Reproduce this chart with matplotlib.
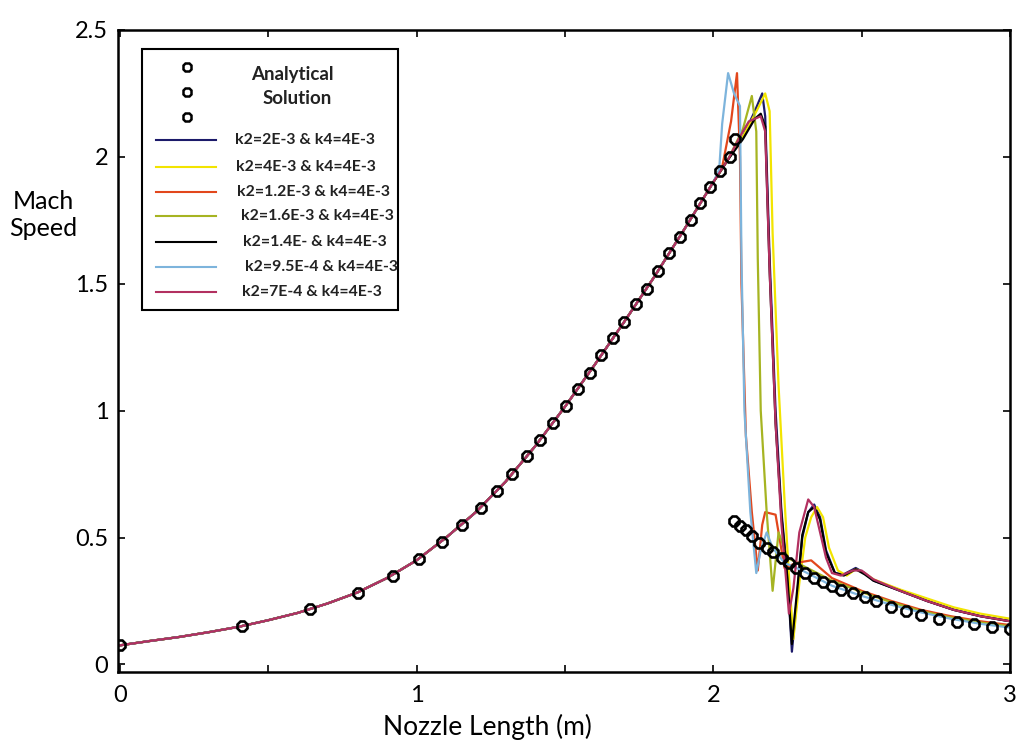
import matplotlib
matplotlib.use('Agg')
import matplotlib.pyplot as plt
import numpy as np
from matplotlib.patches import Rectangle
from matplotlib.lines import Line2D

plt.rcParams['font.family'] = ['Lato', 'DejaVu Sans']

# analytical solution (markers): supersonic branch then post-shock branch
x_exact = [0.0, 0.411, 0.640, 0.802, 0.920, 1.010, 1.085, 1.153, 1.217, 1.271,
           1.321, 1.372, 1.416, 1.459, 1.503, 1.544, 1.584, 1.621, 1.662, 1.699,
           1.739, 1.776, 1.813, 1.850, 1.887, 1.924, 1.955, 1.989, 2.022, 2.056, 2.073,
           2.07, 2.09, 2.11, 2.13, 2.155, 2.18, 2.20, 2.23, 2.255, 2.28, 2.31, 2.34,
           2.37, 2.40, 2.43, 2.47, 2.51, 2.55, 2.60, 2.65, 2.70, 2.76, 2.82, 2.88, 2.94, 3.0]
m_exact = [0.075, 0.15, 0.217, 0.283, 0.35, 0.417, 0.484, 0.55, 0.618, 0.685,
           0.75, 0.82, 0.886, 0.953, 1.02, 1.087, 1.15, 1.22, 1.287, 1.35,
           1.42, 1.48, 1.55, 1.62, 1.685, 1.75, 1.82, 1.88, 1.945, 2.00, 2.07,
           0.567, 0.547, 0.528, 0.505, 0.48, 0.46, 0.441, 0.42, 0.40, 0.38, 0.36, 0.342,
           0.323, 0.31, 0.295, 0.28, 0.265, 0.25, 0.228, 0.21, 0.195, 0.18, 0.168, 0.158, 0.148, 0.14]

# numerical solutions share the same upstream part
x_up = [0.0, 0.1, 0.2, 0.3, 0.4, 0.5, 0.6, 0.7, 0.8, 0.9, 1.0,
        1.1, 1.2, 1.3, 1.4, 1.5, 1.6, 1.7, 1.8, 1.9, 2.0]
m_up = [0.075, 0.092, 0.108, 0.127, 0.148, 0.174, 0.203, 0.24, 0.283, 0.34, 0.41,
        0.50, 0.60, 0.72, 0.86, 1.015, 1.18, 1.35, 1.525, 1.71, 1.90]

# shock region of each run
k2_2e3_x = [2.05, 2.10, 2.14, 2.165, 2.175, 2.19, 2.21, 2.23, 2.25, 2.265, 2.285, 2.30, 2.32,
            2.34, 2.36, 2.38, 2.41, 2.44, 2.48, 2.51, 2.54, 2.63, 2.72, 2.81, 2.90, 3.00]
k2_2e3_m = [1.99, 2.08, 2.18, 2.25, 2.16, 1.60, 1.00, 0.60, 0.35, 0.05, 0.30, 0.50, 0.60,
            0.63, 0.58, 0.45, 0.36, 0.355, 0.38, 0.36, 0.33, 0.29, 0.25, 0.215, 0.19, 0.17]

k2_4e3_x = [2.05, 2.10, 2.15, 2.175, 2.19, 2.20, 2.22, 2.24, 2.255, 2.27, 2.29, 2.31, 2.33,
            2.35, 2.37, 2.39, 2.42, 2.45, 2.48, 2.51, 2.54, 2.63, 2.72, 2.81, 2.90, 3.00]
k2_4e3_m = [1.99, 2.08, 2.19, 2.25, 2.18, 1.70, 1.10, 0.65, 0.35, 0.10, 0.32, 0.50, 0.58,
            0.62, 0.58, 0.46, 0.37, 0.35, 0.375, 0.36, 0.335, 0.295, 0.26, 0.225, 0.20, 0.18]

k2_12e4_x = [2.03, 2.06, 2.08, 2.09, 2.095, 2.11, 2.13, 2.15, 2.165, 2.175, 2.21, 2.24,
             2.28, 2.33, 2.40, 2.50, 2.60, 2.70, 2.80, 2.90, 3.00]
k2_12e4_m = [1.96, 2.14, 2.33, 2.00, 1.50, 0.90, 0.60, 0.37, 0.55, 0.60, 0.59, 0.38,
             0.40, 0.41, 0.34, 0.29, 0.25, 0.215, 0.19, 0.17, 0.155]

k2_16e4_x = [2.05, 2.10, 2.13, 2.145, 2.15, 2.16, 2.18, 2.20, 2.22, 2.25, 2.30, 2.40,
             2.50, 2.60, 2.70, 2.80, 2.90, 3.00]
k2_16e4_m = [1.99, 2.11, 2.24, 2.10, 1.60, 1.00, 0.60, 0.29, 0.52, 0.42, 0.39, 0.33,
             0.285, 0.245, 0.21, 0.185, 0.165, 0.15]

k2_14e4_x = [2.05, 2.10, 2.14, 2.16, 2.175, 2.19, 2.21, 2.23, 2.25, 2.265, 2.285, 2.30, 2.32,
             2.34, 2.36, 2.38, 2.41, 2.44, 2.48, 2.51, 2.54, 2.63, 2.72, 2.81, 2.90, 3.00]
k2_14e4_m = [1.99, 2.07, 2.15, 2.17, 2.12, 1.55, 0.95, 0.58, 0.34, 0.08, 0.32, 0.51, 0.60,
             0.62, 0.57, 0.44, 0.36, 0.35, 0.375, 0.355, 0.33, 0.29, 0.25, 0.215, 0.19, 0.17]

k2_95e5_x = [2.02, 2.03, 2.05, 2.07, 2.09, 2.095, 2.105, 2.125, 2.145, 2.16, 2.18, 2.20,
             2.24, 2.30, 2.40, 2.50, 2.60, 2.70, 2.80, 2.90, 3.00]
k2_95e5_m = [1.95, 2.13, 2.33, 2.25, 2.20, 1.60, 1.00, 0.60, 0.36, 0.45, 0.52, 0.46,
             0.40, 0.37, 0.31, 0.27, 0.235, 0.205, 0.18, 0.16, 0.145]

k2_7e4_x = [2.05, 2.09, 2.12, 2.16, 2.175, 2.19, 2.21, 2.23, 2.255, 2.27, 2.29, 2.32, 2.34,
            2.36, 2.38, 2.40, 2.43, 2.47, 2.50, 2.54, 2.63, 2.72, 2.81, 2.90, 3.00]
k2_7e4_m = [1.99, 2.08, 2.14, 2.16, 2.10, 1.55, 0.95, 0.55, 0.20, 0.30, 0.52, 0.65, 0.62,
            0.52, 0.42, 0.36, 0.35, 0.37, 0.37, 0.335, 0.29, 0.25, 0.215, 0.19, 0.17]

labels = ['k2=2E-3 & k4=4E-3', 'k2=4E-3 & k4=4E-3', 'k2=1.2E-3 & k4=4E-3',
          'k2=1.6E-3 & k4=4E-3', 'k2=1.4E- & k4=4E-3', 'k2=9.5E-4 & k4=4E-3',
          'k2=7E-4 & k4=4E-3']
colors = ['#1c1a6a', '#f2e400', '#e2471c', '#a6b422', '#000000', '#7db4dc', '#b23060']
runs = [(k2_2e3_x, k2_2e3_m), (k2_4e3_x, k2_4e3_m), (k2_12e4_x, k2_12e4_m),
        (k2_16e4_x, k2_16e4_m), (k2_14e4_x, k2_14e4_m), (k2_95e5_x, k2_95e5_m),
        (k2_7e4_x, k2_7e4_m)]

fig = plt.figure(figsize=(10.17, 7.45), dpi=100)
ax = fig.add_axes([118/1017, 1-672/745, 892/1017, 642/745])

for (xs, ms), c in zip(runs, colors):
    ax.plot(np.r_[x_up, xs], np.r_[m_up, ms], color=c, lw=1.6)

ax.plot(x_exact, m_exact, '8', mfc='none', mec='black', mew=1.9, ms=8.5, zorder=5)

ax.set_xlim(-0.006, 3.0)
ax.set_ylim(-0.03, 2.5)
ax.set_xticks(np.arange(0, 3.01, 0.5))
ax.set_xticklabels(['0', '', '1', '', '2', '', '3'])
ax.set_yticks(np.arange(0, 2.51, 0.5))
ax.set_yticklabels(['0', '0.5', '1', '1.5', '2', '2.5'])
ax.tick_params(direction='in', length=5, width=1.2, top=True, right=True, labelsize=17)
ax.tick_params(axis='x', pad=9)
ax.tick_params(axis='y', pad=7)
for sp in ax.spines.values():
    sp.set_linewidth(1.8)

ax.set_xlabel('Nozzle Length (m)', fontsize=19, va='center')
ax.xaxis.set_label_coords(0.414, -0.086)
ax.set_ylabel('Mach\nSpeed', fontsize=18, rotation=0, ha='center', va='center')
ax.yaxis.set_label_coords(-0.084, 0.712)

# legend box drawn by hand to keep the original layout
tf = ax.transAxes
ax.add_patch(Rectangle((0.027, 0.564), 0.287, 0.406, transform=tf, fill=False,
                       ec='black', lw=1.5, zorder=6))
for yy in [0.942, 0.903, 0.864]:
    ax.add_line(Line2D([0.077], [yy], transform=tf, marker='8', mfc='none',
                       mec='black', mew=1.8, ms=7, zorder=7))
ax.text(0.195, 0.930, 'Analytical', transform=tf, ha='center', va='center',
        fontsize=13.5, fontweight='bold', color='#222222', zorder=7)
ax.text(0.201, 0.894, 'Solution', transform=tf, ha='center', va='center',
        fontsize=13.5, fontweight='bold', color='#222222', zorder=7)
row_y = [0.829, 0.787, 0.748, 0.710, 0.670, 0.631, 0.592]
text_x = [0.131, 0.132, 0.133, 0.138, 0.140, 0.142, 0.139]
for lab, c, yy, tx in zip(labels, colors, row_y, text_x):
    ax.add_line(Line2D([0.043, 0.110], [yy, yy], transform=tf, color=c, lw=1.5, zorder=7))
    ax.text(tx, yy, lab, transform=tf, ha='left', va='center', fontsize=11.4,
            fontweight='bold', color='#222222', zorder=7)

fig.savefig('out.png', dpi=100)
